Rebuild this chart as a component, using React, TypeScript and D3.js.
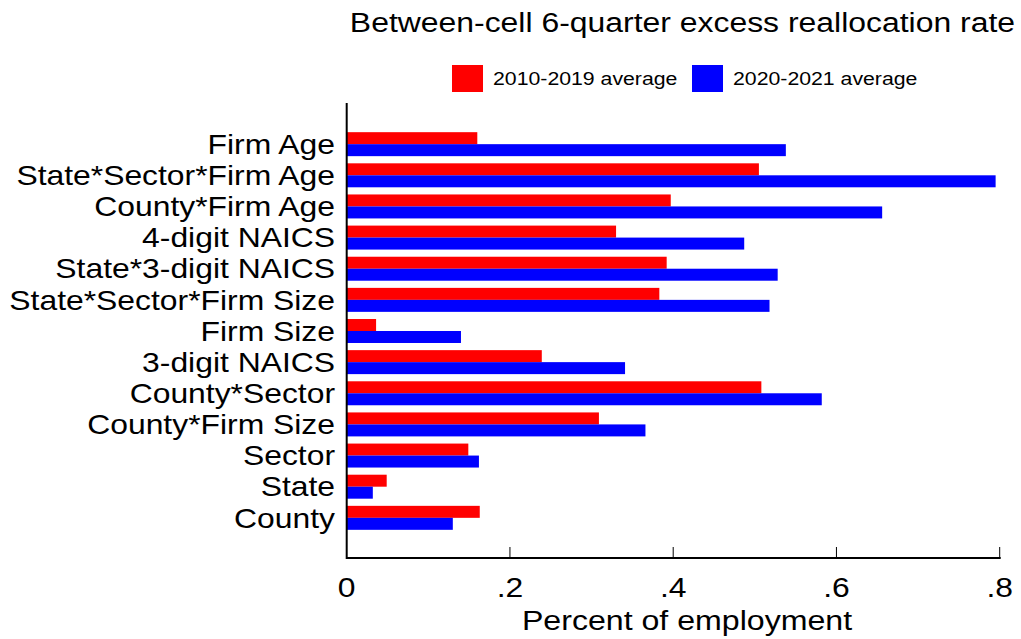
import React from "react";
import * as d3 from "d3";

const categories = [
  "Firm Age",
  "State*Sector*Firm Age",
  "County*Firm Age",
  "4-digit NAICS",
  "State*3-digit NAICS",
  "State*Sector*Firm Size",
  "Firm Size",
  "3-digit NAICS",
  "County*Sector",
  "County*Firm Size",
  "Sector",
  "State",
  "County",
];
const avg2010_2019 = [0.16, 0.505, 0.397, 0.33, 0.392, 0.383, 0.036, 0.239, 0.508, 0.309, 0.149, 0.049, 0.163];
const avg2020_2021 = [0.538, 0.795, 0.656, 0.487, 0.528, 0.518, 0.14, 0.341, 0.582, 0.366, 0.162, 0.032, 0.13];
const seriesNames = ["2010-2019 average", "2020-2021 average"];
const seriesColors = ["#ff0000", "#0000ff"];
const xTicks = [0, 0.2, 0.4, 0.6, 0.8];
const xTickLabels = ["0", ".2", ".4", ".6", ".8"];
const title = "Between-cell 6-quarter excess reallocation rate";
const xTitle = "Percent of employment";

function T(props: { x: number; y: number; size: number; sx: number; anchor?: string; dy?: string; children: React.ReactNode }) {
  const { x, y, size, sx, anchor = "start", dy, children } = props;
  return (
    <g transform={`translate(${x},${y}) scale(${sx},1)`}>
      <text x={0} y={0} dy={dy} textAnchor={anchor as any} fontSize={size} fill="#000">
        {children}
      </text>
    </g>
  );
}

export default function App() {
  const W = 1021, H = 639;
  const x0 = 346.7, yTop = 103, yBot = 558;
  const x = d3.scaleLinear().domain([0, 0.8]).range([x0, 999.7]);
  const y = d3
    .scaleBand<string>()
    .domain(categories)
    .range([128.6, 533.4])
    .paddingInner(0.23)
    .paddingOuter(0.115);
  const sub = d3.scaleBand<number>().domain([0, 1]).range([0, y.bandwidth()]);
  const series = [avg2010_2019, avg2020_2021];
  const font = "'Liberation Sans', Arial, sans-serif";

  return (
    <svg width={W} height={H} style={{ position: "absolute", left: 0, top: 0, background: "#fff" }} fontFamily={font}>
      <rect x={0} y={0} width={W} height={H} fill="#fff" />
      <T x={1015} y={32} size={28} sx={1.14} anchor="end">{title}</T>
      {/* legend */}
      {seriesNames.map((n, i) => {
        const lx = i === 0 ? 452 : 692;
        return (
          <g key={n}>
            <rect x={lx} y={65} width={31} height={27} fill={seriesColors[i]} />
            <T x={lx + 41} y={85} size={18.5} sx={1.15}>{n}</T>
          </g>
        );
      })}
      {/* bars */}
      {categories.map((c, ci) => (
        <g key={c}>
          {series.map((s, si) => (
            <rect
              key={si}
              x={x(0)}
              y={(y(c) as number) + (sub(si) as number)}
              width={x(s[ci]) - x(0)}
              height={sub.bandwidth()}
              fill={seriesColors[si]}
            />
          ))}
          <T x={335} y={(y(c) as number) + y.bandwidth() / 2} dy="0.36em" size={27} sx={1.18} anchor="end">
            {c}
          </T>
        </g>
      ))}
      {/* axes */}
      <line x1={x0} x2={x0} y1={yTop} y2={yBot + 1} stroke="#000" strokeWidth={2} />
      <line x1={x0} x2={x(0.8) + 1} y1={yBot} y2={yBot} stroke="#000" strokeWidth={2} />
      {xTicks.map((t, i) => (
        <g key={t}>
          {i > 0 && <line x1={x(t)} x2={x(t)} y1={yBot - 11} y2={yBot} stroke="#000" strokeWidth={1} />}
          <T x={x(t)} y={597} size={27} sx={1.18} anchor="middle">{xTickLabels[i]}</T>
        </g>
      ))}
      <T x={687} y={630} size={27} sx={1.19} anchor="middle">{xTitle}</T>
    </svg>
  );
}
